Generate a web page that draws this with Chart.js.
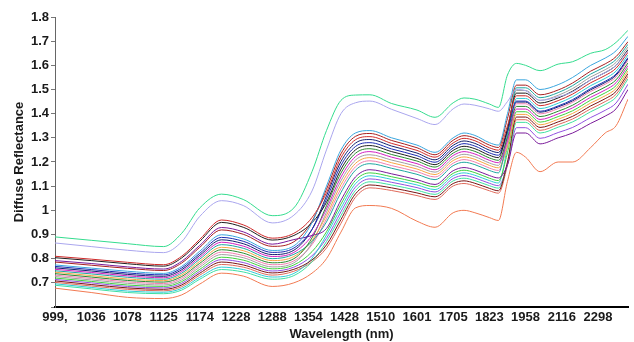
<!DOCTYPE html>
<html>
<head>
<meta charset="utf-8">
<script src="https://cdn.jsdelivr.net/npm/chart.js@4.4.1/dist/chart.umd.min.js"></script>
<style>
  html, body { margin: 0; padding: 0; background: #fff; }
  #wrap { width: 634px; height: 342px; }
</style>
</head>
<body>
<div id="wrap"><canvas id="chartContainer" width="634" height="342"></canvas></div>
<script>
"use strict";

// 1: data
// tick labels of the wavelength axis (one per channel step)
const tickLabels = ['999,', '1036', '1078', '1125', '1174', '1228', '1288', '1354', '1428', '1510', '1601', '1705', '1823', '1958', '2116', '2298'];

// where each sample sits along the axis (in tick steps)
const channel = [0, 1, 2, 3, 3.5, 4, 4.6, 5.2, 6, 6.6, 7.1, 7.5, 7.9, 8.3, 8.7, 9.3, 10, 10.5, 11, 11.3, 11.6, 12, 12.25, 12.5, 12.75, 13, 13.4, 13.9, 14.3, 14.8, 15.2, 15.5, 15.83];

// reflectance spectra, one array per sample
const s01 = [0.890,0.876,0.862,0.850,0.905,1.010,1.067,1.045,0.978,1.010,1.160,1.330,1.455,1.477,1.478,1.442,1.415,1.385,1.445,1.465,1.460,1.440,1.426,1.560,1.608,1.600,1.578,1.605,1.615,1.650,1.665,1.695,1.745];
const s02 = [0.865,0.850,0.835,0.825,0.870,0.975,1.040,1.020,0.948,0.980,1.080,1.250,1.400,1.445,1.452,1.418,1.380,1.355,1.420,1.440,1.435,1.420,1.410,1.450,1.500,1.495,1.455,1.470,1.490,1.540,1.570,1.600,1.660];
const s03 = [0.810,0.798,0.785,0.775,0.810,0.880,0.960,0.940,0.885,0.905,0.970,1.073,1.218,1.292,1.305,1.277,1.248,1.220,1.279,1.298,1.288,1.259,1.249,1.350,1.474,1.474,1.433,1.454,1.481,1.528,1.558,1.588,1.654];
const s04 = [0.774,0.761,0.748,0.739,0.768,0.831,0.899,0.882,0.834,0.853,0.949,1.100,1.250,1.320,1.330,1.300,1.270,1.240,1.300,1.320,1.310,1.280,1.270,1.400,1.540,1.540,1.500,1.520,1.550,1.600,1.630,1.660,1.720];
const s05 = [0.804,0.792,0.779,0.769,0.803,0.872,0.950,0.930,0.877,0.896,0.949,1.033,1.170,1.250,1.268,1.243,1.215,1.189,1.248,1.265,1.255,1.228,1.218,1.338,1.485,1.485,1.444,1.465,1.493,1.540,1.570,1.600,1.665];
const s06 = [0.768,0.755,0.741,0.733,0.761,0.822,0.888,0.872,0.826,0.844,0.921,1.046,1.186,1.264,1.280,1.254,1.226,1.199,1.258,1.276,1.266,1.238,1.228,1.325,1.452,1.452,1.410,1.432,1.458,1.504,1.534,1.564,1.632];
const s07 = [0.792,0.780,0.766,0.757,0.789,0.855,0.929,0.911,0.860,0.879,0.896,0.925,1.042,1.138,1.168,1.151,1.127,1.107,1.164,1.177,1.167,1.144,1.134,1.188,1.320,1.320,1.275,1.300,1.320,1.360,1.390,1.420,1.500];
const s08 = [0.756,0.743,0.729,0.721,0.747,0.806,0.868,0.852,0.809,0.826,0.896,1.006,1.138,1.222,1.243,1.220,1.193,1.168,1.227,1.243,1.233,1.207,1.197,1.288,1.419,1.419,1.376,1.399,1.424,1.468,1.498,1.528,1.599];
const s09 = [0.738,0.724,0.710,0.703,0.726,0.781,0.837,0.823,0.783,0.800,0.886,1.019,1.154,1.236,1.255,1.231,1.204,1.179,1.237,1.254,1.244,1.217,1.207,1.300,1.430,1.430,1.388,1.410,1.435,1.480,1.510,1.540,1.610];
const s10 = [0.750,0.737,0.723,0.715,0.740,0.798,0.858,0.843,0.800,0.818,0.871,0.952,1.074,1.166,1.193,1.174,1.149,1.127,1.185,1.199,1.189,1.165,1.155,1.313,1.507,1.507,1.466,1.487,1.516,1.564,1.594,1.624,1.687];
const s11 = [0.744,0.730,0.716,0.709,0.733,0.789,0.847,0.833,0.792,0.809,0.875,0.979,1.106,1.194,1.218,1.197,1.171,1.148,1.206,1.221,1.211,1.186,1.176,1.263,1.397,1.397,1.354,1.377,1.401,1.444,1.474,1.504,1.577];
const s12 = [0.726,0.712,0.698,0.691,0.712,0.765,0.817,0.804,0.766,0.783,0.865,0.992,1.122,1.208,1.230,1.208,1.182,1.158,1.216,1.232,1.222,1.196,1.186,1.325,1.496,1.496,1.455,1.476,1.504,1.552,1.582,1.612,1.676];
const s13 = [0.720,0.706,0.691,0.685,0.705,0.756,0.806,0.794,0.758,0.774,0.829,0.911,1.026,1.124,1.155,1.139,1.116,1.097,1.153,1.166,1.156,1.133,1.123,1.238,1.408,1.408,1.365,1.388,1.412,1.456,1.486,1.516,1.588];
const s14 = [0.732,0.718,0.704,0.697,0.719,0.773,0.827,0.813,0.775,0.791,0.858,0.965,1.090,1.180,1.205,1.185,1.160,1.138,1.195,1.210,1.200,1.175,1.165,1.280,1.441,1.441,1.399,1.421,1.447,1.492,1.522,1.552,1.621];
const s15 = [0.708,0.693,0.679,0.673,0.691,0.740,0.786,0.774,0.741,0.756,0.795,0.857,0.962,1.068,1.105,1.093,1.072,1.056,1.111,1.122,1.112,1.091,1.081,1.200,1.386,1.386,1.343,1.366,1.389,1.432,1.462,1.492,1.566];
const s16 = [0.696,0.681,0.666,0.661,0.677,0.723,0.765,0.755,0.724,0.739,0.802,0.898,1.010,1.110,1.143,1.128,1.105,1.086,1.143,1.155,1.145,1.123,1.113,1.263,1.463,1.463,1.421,1.443,1.470,1.516,1.546,1.576,1.643];
const s17 = [0.690,0.675,0.660,0.655,0.670,0.715,0.755,0.745,0.715,0.730,0.787,0.871,0.978,1.082,1.118,1.105,1.083,1.066,1.122,1.133,1.123,1.102,1.092,1.195,1.364,1.364,1.320,1.344,1.366,1.408,1.438,1.468,1.544];
const s18 = [0.714,0.700,0.685,0.679,0.698,0.748,0.796,0.784,0.749,0.765,0.812,0.884,0.994,1.096,1.130,1.116,1.094,1.076,1.132,1.144,1.134,1.112,1.102,1.188,1.342,1.342,1.298,1.322,1.343,1.384,1.414,1.444,1.522];
const s19 = [0.762,0.749,0.735,0.727,0.754,0.814,0.878,0.862,0.817,0.835,0.921,1.060,1.202,1.278,1.293,1.266,1.237,1.209,1.269,1.287,1.277,1.249,1.239,1.329,1.448,1.448,1.406,1.428,1.453,1.499,1.529,1.559,1.628];
const s20 = [0.786,0.773,0.760,0.751,0.782,0.847,0.919,0.901,0.851,0.870,0.955,1.087,1.234,1.306,1.318,1.289,1.259,1.230,1.290,1.309,1.299,1.270,1.260,1.380,1.518,1.518,1.478,1.498,1.527,1.576,1.606,1.636,1.698];
const s21 = [0.702,0.687,0.673,0.667,0.684,0.732,0.776,0.765,0.732,0.748,0.787,0.844,0.946,1.054,1.093,1.082,1.061,1.045,1.101,1.111,1.101,1.081,1.071,1.188,1.375,1.375,1.331,1.355,1.378,1.420,1.450,1.480,1.555];
const s22 = [0.678,0.660,0.640,0.635,0.650,0.695,0.740,0.728,0.685,0.700,0.740,0.800,0.910,1.010,1.020,1.008,0.955,0.930,0.990,1.000,0.990,0.970,0.958,1.120,1.240,1.220,1.160,1.200,1.200,1.260,1.320,1.350,1.460];

const samples = [s01, s02, s03, s04, s05, s06, s07, s08, s09, s10, s11, s12, s13, s14, s15, s16, s17, s18, s19, s20, s21, s22];

// line colours, one per sample
const colors = ['#34dc8e', '#aaa6ee', '#cf2a2a', '#3aa6de', '#1e1e1e', '#1b2bb2', '#7a1a9a', '#d21fc2', '#2a8a30', '#1fa6a0', '#f6a544', '#a0a0a0', '#3fd23f', '#f07fb0', '#7a1414', '#30cdd6', '#3fe0a2', '#9150e0', '#14226e', '#a82020', '#e06a5a', '#f27a52'];

// 2: prepare data for chart
function prepareData() {
  return samples.map((vals, k) => ({
    label: 'Sample ' + (k + 1),
    data: vals.map((v, i) => ({ x: channel[i], y: v })),
    borderColor: colors[k],
    borderWidth: 1,
    pointRadius: 0,
    fill: false,
    cubicInterpolationMode: 'monotone'
  }));
}

// 3: create and append the chart
function appendChart() {
  const font = { family: '"Liberation Sans", Arial, sans-serif', weight: 'bold', size: 13 };
  const chartContainer = document.getElementById('chartContainer');
  new Chart(chartContainer, {
    type: 'line',
    data: { datasets: prepareData() },
    options: {
      responsive: false,
      animation: false,
      layout: { padding: { top: 17, right: 6, left: 0, bottom: 0 } },
      plugins: { legend: { display: false }, tooltip: { enabled: false } },
      scales: {
        x: {
          type: 'linear',
          min: 0,
          max: channel[channel.length - 1],
          grid: { display: false, tickLength: 0 },
          border: { display: true, color: '#000', width: 2 },
          afterBuildTicks: s => { s.ticks = tickLabels.map((t, i) => ({ value: i })); },
          ticks: {
            autoSkip: false,
            maxRotation: 0,
            padding: 3,
            color: '#1a1a1a',
            font: font,
            callback: v => tickLabels[v] || ''
          },
          title: { display: true, text: 'Wavelength (nm)', color: '#1a1a1a', font: font, padding: { top: 0, bottom: 0 } },
          afterFit: s => { s.height = 35; }
        },
        y: {
          min: 0.6,
          max: 1.8,
          grid: { drawOnChartArea: false, drawTicks: true, tickLength: 4, color: '#777' },
          border: { display: true, color: '#666', width: 1 },
          ticks: {
            stepSize: 0.1,
            padding: 2,
            color: '#1a1a1a',
            font: font,
            callback: v => v < 0.65 ? '' : String(Math.round(v * 10) / 10)
          },
          title: { display: true, text: 'Diffuse Reflectance', color: '#1a1a1a', font: font, padding: { top: 12, bottom: 0 } },
          afterFit: s => { s.width = 55; }
        }
      }
    }
  });
}

appendChart();
</script>
</body>
</html>
